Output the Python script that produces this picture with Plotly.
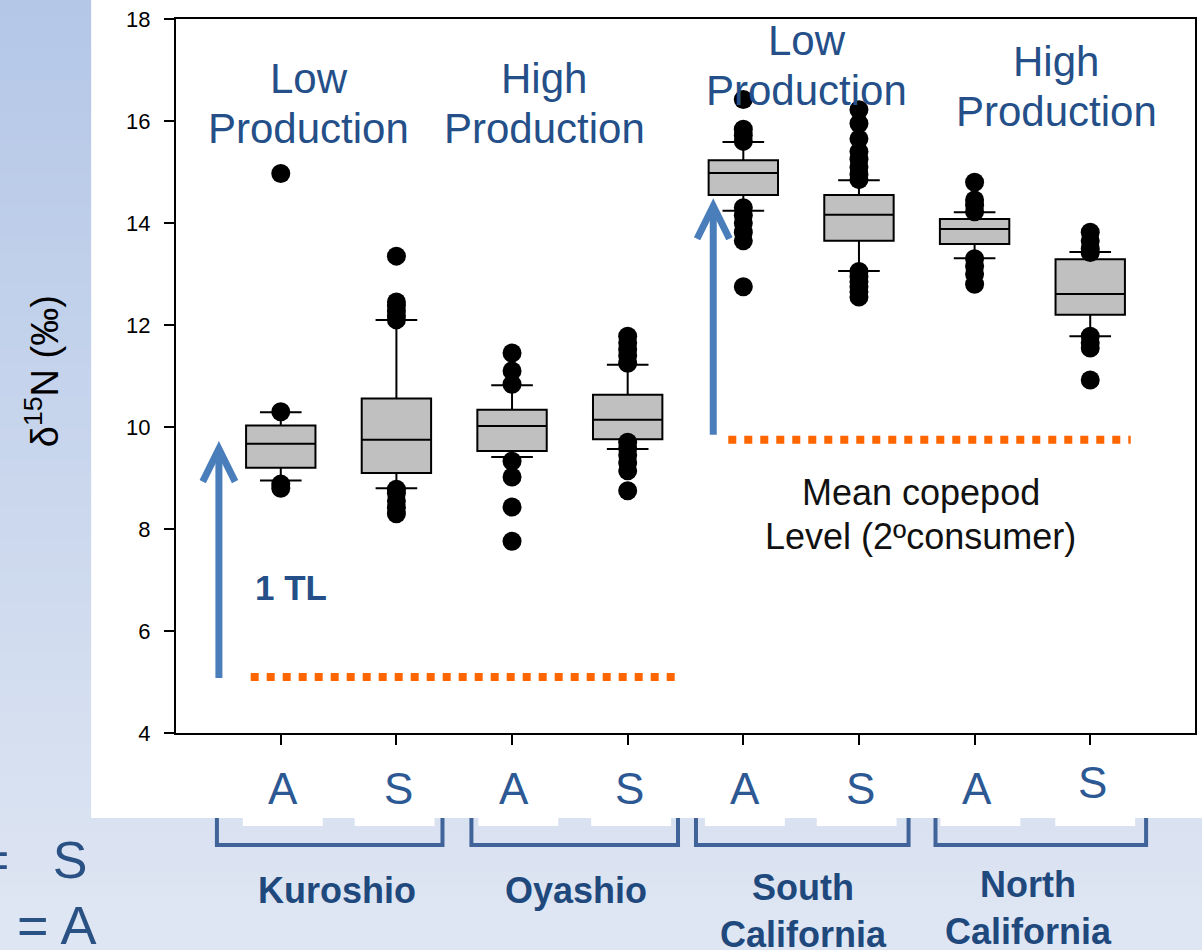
import plotly.graph_objects as go

# ---- data -------------------------------------------------------------
positions = [0, 1, 2, 3, 4, 5, 6, 7]
tissue = ["A", "S", "A", "S", "A", "S", "A", "S"]
regions = ["Kuroshio", "Oyashio", "South<br>California", "North<br>California"]

q1 = [9.20, 9.10, 9.53, 9.76, 14.55, 13.65, 13.59, 12.20]
median = [9.67, 9.75, 10.02, 10.14, 14.98, 14.16, 13.88, 12.61]
q3 = [10.03, 10.56, 10.34, 10.63, 15.23, 14.55, 14.08, 13.29]
lower_whisker = [8.95, 8.80, 9.41, 9.57, 14.24, 13.06, 13.31, 11.78]
upper_whisker = [10.29, 12.10, 10.82, 11.22, 15.59, 14.84, 14.21, 13.43]

outliers = [
    [14.97, 10.30, 8.88, 8.80],
    [13.35, 12.45, 12.38, 12.28, 12.18, 12.10, 8.78, 8.70, 8.55, 8.42, 8.30],
    [11.45, 11.10, 10.84, 9.33, 9.02, 8.43, 7.76],
    [11.78, 11.65, 11.52, 11.40, 11.25, 9.70, 9.58, 9.45, 9.30, 9.14, 8.75],
    [16.42, 15.84, 15.72, 15.60, 14.30, 14.15, 14.00, 13.82, 13.65, 12.75],
    [16.22, 15.95, 15.65, 15.40, 15.25, 15.10, 14.95, 14.85,
     13.05, 12.95, 12.85, 12.75, 12.65, 12.55],
    [14.80, 14.45, 14.35, 14.22, 13.30, 13.15, 13.00, 12.80],
    [13.82, 13.65, 13.50, 13.42, 11.78, 11.65, 11.55, 10.92],
]

# copepod reference levels (dotted) and trophic-level arrows
copepod_levels = [5.1, 9.75]
copepod_spans = [(-0.26, 3.42), (3.87, 7.35)]
tl_arrows = [(-0.535, 5.08, 9.57), (3.74, 9.85, 14.33)]

# ---- layout geometry (pixels) -------------------------------------------
W, H = 1202, 950
L, R, T, B = 176, 5, 19, 217
PW, PH = W - L - R, H - T - B


def px(xp):
    return (xp - L) / PW


def py(yp):
    return (T + PH - yp) / PH


BLUE_TXT = "#244f88"
DARK_BLUE = "#1f497d"
AS_BLUE = "#2c5893"
BRACKET = "#40639a"
ARROW = "#4a7ebb"
ORANGE = "#ff6600"
FONT = "Liberation Sans, Arial, sans-serif"
NARROW = "Liberation Sans Narrow, Arial Narrow, Liberation Sans, sans-serif"

fig = go.Figure()

fig.add_trace(go.Box(
    x=positions, q1=q1, median=median, q3=q3,
    lowerfence=lower_whisker, upperfence=upper_whisker,
    width=0.6, whiskerwidth=0.6, boxpoints=False,
    fillcolor="#c0c0c0", line=dict(color="black", width=2),
    showlegend=False, hoverinfo="skip",
))

ox, oy = [], []
for p, vals in zip(positions, outliers):
    ox += [p] * len(vals)
    oy += vals
fig.add_trace(go.Scatter(
    x=ox, y=oy, mode="markers",
    marker=dict(color="black", size=19, line=dict(width=0)),
    showlegend=False, hoverinfo="skip",
))

shapes = []

# slide background: vertical gradient
n = 60
top_c = (180, 199, 231)
bot_c = (223, 230, 243)
for i in range(n):
    t = i / (n - 1)
    c = tuple(round(a + (b - a) * t) for a, b in zip(top_c, bot_c))
    y0 = H * i / n
    y1 = H * (i + 1) / n + 1
    shapes.append(dict(type="rect", xref="paper", yref="paper",
                       x0=px(-5), x1=px(W + 5), y0=py(y0), y1=py(y1),
                       fillcolor="rgb(%d,%d,%d)" % c, line=dict(width=0),
                       layer="below"))

# region brackets
for x0, x1 in [(217, 443), (472, 679), (697, 910), (937, 1148)]:
    shapes.append(dict(type="path", xref="paper", yref="paper",
                       path="M %f,%f L %f,%f L %f,%f L %f,%f" % (
                           px(x0), py(800), px(x0), py(845),
                           px(x1), py(845), px(x1), py(800)),
                       line=dict(color=BRACKET, width=4), layer="below"))

# white chart panel
shapes.append(dict(type="rect", xref="paper", yref="paper",
                   x0=px(91), x1=px(W + 5), y0=py(818), y1=py(-5),
                   fillcolor="white", line=dict(width=0), layer="below"))
# white label boxes just under the panel
for cx in [283, 395, 519, 632, 746, 858, 982, 1097]:
    shapes.append(dict(type="rect", xref="paper", yref="paper",
                       x0=px(cx - 40), x1=px(cx + 40), y0=py(826), y1=py(816),
                       fillcolor="white", line=dict(width=0), layer="below"))

# copepod dotted levels
for lvl, (xa, xb) in zip(copepod_levels, copepod_spans):
    shapes.append(dict(type="line", xref="x", yref="y", x0=xa, x1=xb,
                       y0=lvl, y1=lvl,
                       line=dict(color=ORANGE, width=8, dash="8px,8px")))

# trophic-level arrows
dx, dy = 0.14, 0.64
for ax_, y0, y1 in tl_arrows:
    shapes.append(dict(type="line", xref="x", yref="y", x0=ax_, x1=ax_,
                       y0=y0, y1=y1 - 0.05,
                       line=dict(color=ARROW, width=7)))
    shapes.append(dict(type="path", xref="x", yref="y",
                       path="M %f,%f L %f,%f L %f,%f" % (
                           ax_ - dx, y1 - dy, ax_, y1, ax_ + dx, y1 - dy),
                       line=dict(color=ARROW, width=7)))

annotations = []


def text(x, y, s, size, color, family=FONT, anchor="center", angle=0):
    annotations.append(dict(xref="paper", yref="paper", x=px(x), y=py(y),
                            text=s, showarrow=False, xanchor=anchor,
                            yanchor="middle", textangle=angle,
                            font=dict(size=size, color=color, family=family)))


# production labels
for cx, y1, y2, a, b in [(309, 78, 128, "Low", "Production"),
                         (545, 78, 128, "High", "Production"),
                         (808, 40, 91, "Low", "Production"),
                         (1058, 61, 112, "High", "Production")]:
    text(cx, y1, a, 42, BLUE_TXT)
    text(cx, y2, b, 42, BLUE_TXT)

text(291, 587, "<b>1 TL</b>", 35, BLUE_TXT)
text(922, 492, "Mean copepod", 36, "#111111")
text(922, 536, "Level (2ºconsumer)", 36, "#111111")

# y axis title
text(42, 371, "δ<sup>15</sup>N (‰)", 38, "black", angle=-90)

# tissue labels under the axis
for p, lab in zip(positions, tissue):
    xp = 281 + 115.86 * p + 2
    yp = 782 if p == 7 else 788
    text(xp, yp, lab, 44, AS_BLUE, family=NARROW)

# region labels
for cx, cy, lab in [(337, 890, "Kuroshio"), (577, 890, "Oyashio"),
                    (805, 911, "South<br>California"),
                    (1030, 908, "North<br>California")]:
    text(cx, cy, "<b>%s</b>" % lab, 36, DARK_BLUE, family=NARROW)

# cut-off legend text at the slide edge
text(89, 860, "=   S", 52, "#2a5183", anchor="right")
text(99, 925, "= A", 54, "#2a5183", anchor="right")

fig.update_layout(
    width=W, height=H,
    margin=dict(l=L, r=R, t=T, b=B, pad=0),
    paper_bgcolor="white", plot_bgcolor="rgba(0,0,0,0)",
    shapes=shapes, annotations=annotations,
    showlegend=False,
    xaxis=dict(range=[-0.906, 7.906], tickvals=positions, showticklabels=False,
               ticks="outside", ticklen=10, tickwidth=1.5, tickcolor="black",
               showline=True, linecolor="black", linewidth=2, mirror=True,
               showgrid=False, zeroline=False),
    yaxis=dict(range=[4, 18], dtick=2, tick0=4, ticks="outside", ticklen=10,
               tickwidth=1.5, tickcolor="black", ticklabelstandoff=9,
               tickfont=dict(size=22, color="black", family=FONT),
               showline=True, linecolor="black", linewidth=2, mirror=True,
               showgrid=False, zeroline=False),
)

fig.write_html("out.html")
